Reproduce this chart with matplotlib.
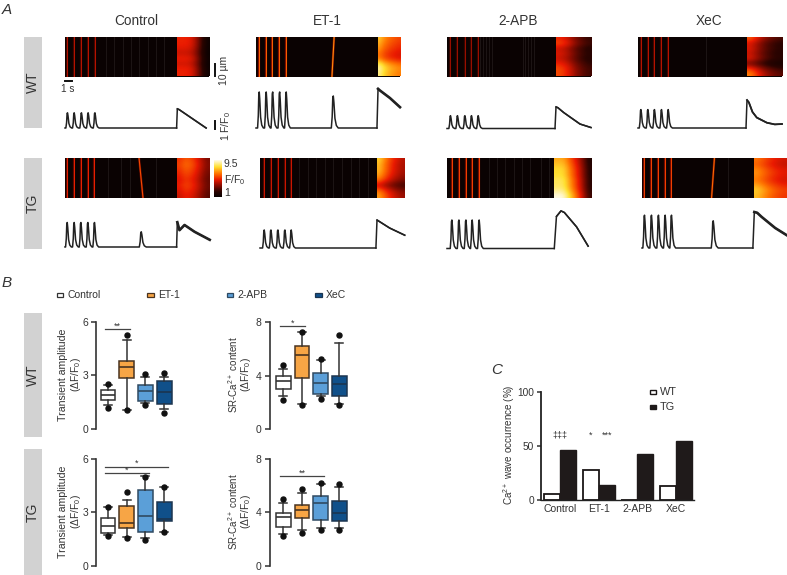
import matplotlib
matplotlib.use("Agg")
import matplotlib.pyplot as plt
from matplotlib.colors import LinearSegmentedColormap, Normalize
from matplotlib.patches import Rectangle
import numpy as np

plt.rcParams['font.family'] = ['Liberation Sans', 'DejaVu Sans']
plt.rcParams['mathtext.fontset'] = 'custom'
plt.rcParams['mathtext.rm'] = 'Liberation Sans'
plt.rcParams['mathtext.default'] = 'regular'

W, H = 787, 575
TXT = '#333333'
PX_S = 7.2   # px per second
PX_F = 8.0   # px per F/F0

# ---- panel A data, order is Control, ET-1, 2-APB, XeC
drugs = ['Control', 'ET-1', '2-APB', 'XeC']

wt_spikes = [[.32, 1.25, 2.26, 3.19, 4.13], [.42, 1.39, 2.29, 3.26, 4.17],
             [.46, 1.43, 2.46, 3.38, 4.31], [.38, 1.35, 2.26, 3.24, 4.17]]
tg_spikes = [[.28, 1.25, 2.18, 3.15, 4.07], [.56, 1.49, 2.46, 3.43, 4.31],
             [.65, 1.63, 2.60, 3.47, 4.44], [.32, 1.29, 2.26, 3.19, 4.07]]
wt_amp = [1.9, 4.5, 1.6, 2.3]
tg_amp = [3.06, 2.25, 3.56, 4.1]
# spontaneous wave: (time, amplitude, tilt in s over the scan height)
wt_wave = [None, (10.7, 4.0, .3), None, None]
tg_wave = [(10.56, 1.9, -.55), None, None, (9.86, 3.4, .4)]

wt_caff_t = [[15.5, 15.6, 15.85, 19.6],
             [16.8, 16.95, 17.2, 18.6, 20.0],
             [15.0, 15.14, 15.4, 16.2, 17.08, 18.47, 20.0],
             [15.0, 15.14, 15.4, 15.9, 16.5, 17.9, 19.0, 20.0]]
wt_caff_y = [[0, 2.4, 2.3, 0],
             [0, 4.9, 4.7, 3.75, 2.6],
             [0, 2.7, 2.6, 2.0, 1.44, .56, .12],
             [0, 3.5, 3.2, 2.0, 1.3, .66, .45, .5]]
tg_caff_t = [[15.5, 15.6, 15.9, 16.6, 18.0, 20.1],
             [16.1, 16.25, 16.6, 18.0, 20.1],
             [14.9, 15.2, 15.83, 16.3, 18.0, 19.6],
             [15.4, 15.6, 16.0, 16.6, 18.5, 20.1]]
tg_caff_y = [[0, 3.1, 2.1, 2.75, 1.9, .9],
             [0, 3.5, 3.3, 2.5, 1.6],
             [0, 4.0, 4.7, 4.5, 2.7, .3],
             [0, 4.5, 4.4, 3.9, 2.5, 1.6]]
wt_caff_lw = [1.1, 1.9, 1.1, 1.3]
tg_caff_lw = [1.9, 1.1, 1.1, 1.9]

# line scans: F/F0 of the spike lines, then caffeine band as rows x time
wt_level = [4.2, 6.0, 3.8, 4.2]
tg_level = [5.0, 4.5, 5.5, 5.5]
wt_rows = [[1, 1, .95, .88, 1, .9, 1, 1], [1.05, 1, .95, .88, .9, 1.15, 1.25, 1.2],
           [.9, 1, .78, .85, .78, .9, 1, 1], [1.05, .82, .85, .78, .85, .55, .95, 1.15]]
wt_fade = [[5.0, 5.0, 4.8, 3.9, 2.4, 1.2], [7.0, 6.4, 6.0, 5.7, 5.5, 5.3],
           [5.6, 5.2, 4.4, 3.5, 2.9, 2.5], [5.6, 4.8, 3.9, 3.2, 2.8, 2.5]]
tg_rows = [[1, 1.05, 1, .95, .9, .95, .9, .85], [1.05, 1, 1, .95, .85, .6, .85, .95],
           [.95, 1, 1.05, 1.05, 1.1, 1.1, 1.15, 1.25], [.95, .9, 1, 1, .95, 1.05, 1.15, 1.1]]
tg_fade = [[5.2, 5.8, 5.6, 5.0, 4.1, 3.3], [7.2, 6.4, 5.6, 4.9, 4.4, 4.0],
           [7.4, 7.4, 6.2, 5.0, 3.6, 1.9], [6.6, 6.2, 5.7, 5.3, 5.0, 4.8]]
wt_band = [15.5, 16.9, 15.1, 15.1]
tg_band = [15.6, 16.2, 14.8, 15.5]
wt_faint = [[5.7, 6.85, 8, 9.1, 10.3, 11.5, 12.6, 13.8], [], [4.6, 5.0, 5.4, 5.8, 6.2, 10.5, 10.9, 11.3, 11.7, 12.1], [9.4]]
tg_faint = [[6.0, 7.8, 9.0, 12.6], [5.4, 6.6, 7.8, 9.0, 10.2, 11.4, 12.6, 13.8, 15.0],
            [5.9, 7.0, 8.1, 9.3, 10.4, 11.5, 13.1, 14.2], [12.0]]

# pixel placement for panel A
wt_x0 = [65, 256, 447, 638]
tg_x0 = [65, 260, 447, 642]
wt_base = [128, 128, 128.5, 128]
tg_base = [247, 248, 248.5, 248]

# ---- panel B, box stats
leg_colors = ['white', '#f7a545', '#5b9fd8', '#10508a']
edge_colors = ['#333333', '#4a3420', '#2f4a62', '#1c3550']

wa_lo = [1.34, 1.06, 1.43, 1.10]
wa_q1 = [1.60, 2.83, 1.56, 1.42]
wa_med = [1.88, 3.45, 2.14, 2.05]
wa_q3 = [2.18, 3.82, 2.46, 2.68]
wa_hi = [2.46, 5.00, 2.93, 2.93]
wa_fl = [[1.2, 2.5], [1.05, 5.25], [1.35, 3.05], [.87, 3.15]]

ws_lo = [2.5, 1.9, 2.5, 1.9]
ws_q1 = [2.98, 3.85, 2.6, 2.45]
ws_med = [3.6, 5.54, 3.43, 3.4]
ws_q3 = [4.0, 6.2, 4.17, 4.0]
ws_hi = [4.5, 7.25, 5.14, 6.45]
ws_fl = [[2.15, 4.8], [1.8, 7.25], [2.25, 5.25], [1.8, 7.0]]

ta_lo = [1.72, 1.63, 1.53, 1.9]
ta_q1 = [1.85, 2.1, 1.9, 2.5]
ta_med = [2.22, 2.37, 2.77, 2.62]
ta_q3 = [2.65, 3.33, 4.22, 3.55]
ta_hi = [3.27, 3.7, 5.03, 4.43]
ta_fl = [[1.68, 3.27], [1.55, 4.15], [1.45, 5.0], [1.9, 4.4]]

ts_lo = [2.4, 2.65, 2.85, 2.85]
ts_q1 = [2.9, 3.53, 3.43, 3.33]
ts_med = [3.65, 4.2, 4.7, 3.95]
ts_q3 = [3.97, 4.57, 5.24, 4.87]
ts_hi = [4.7, 5.4, 6.14, 5.9]
ts_fl = [[2.25, 5.0], [2.45, 5.7], [2.7, 6.2], [2.7, 6.1]]

# ---- panel C
wave_wt = [5, 27.5, 0, 12.5]
wave_tg = [46.5, 14, 42.5, 54.5]


def px_axes(fig, x0, y0, x1, y1):
    return fig.add_axes([x0 / W, 1 - y1 / H, (x1 - x0) / W, (y1 - y0) / H])


cmap = LinearSegmentedColormap.from_list('scan', [(0, '#0a0202'), (.14, '#2c0400'), (.3, '#8a0c00'),
                                                  (.46, '#ea1a00'), (.62, '#ff7400'), (.8, '#ffdf30'),
                                                  (1, '#ffffff')])
norm = Normalize(1, 9.5)


def linescan(ax, spikes, level, wave, band, rows, fade, faint, width):
    ax.set_facecolor(cmap(0))
    for t in faint:
        ax.axvline(t, color='white', alpha=.08, lw=.7)
    for t in spikes:
        ax.axvline(t, color=cmap(norm(level * .7)), lw=1.6, alpha=.7)
        ax.axvline(t, color=cmap(norm(level)), lw=.7)
    if wave is not None:
        t, amp, tilt = wave
        ax.plot([t - tilt / 2, t + tilt / 2], [0, 1], color=cmap(norm(level * .7)), lw=1.6, alpha=.7)
        ax.plot([t - tilt / 2, t + tilt / 2], [0, 1], color=cmap(norm(level + .6)), lw=.8)
    end = width / PX_S
    ax.imshow(np.outer(rows, fade), cmap=cmap, norm=norm, aspect='auto', interpolation='bicubic',
              extent=[band, end, 0, 1], origin='upper')
    ax.set_xlim(0, end)
    ax.set_ylim(0, 1)
    ax.set_xticks([])
    ax.set_yticks([])
    for s in ax.spines.values():
        s.set_visible(False)


def trace(ax, spikes, amp, wave, caff_t, caff_y, caff_lw, width):
    # one spike goes up fast and comes back a bit slower
    shape_t = [-.2, -.1, -.03, .03, .1, .22, .38, .6]
    shape_y = [0, .35, .95, 1, .8, .3, .08, 0]
    xs, ys = [0.0], [0.0]
    for t in spikes:
        for a, b in zip(shape_t, shape_y):
            xs.append(t + a)
            ys.append(amp * b)
    if wave is not None:
        for a, b in zip(shape_t, shape_y):
            xs.append(wave[0] + a * 1.2)
            ys.append(wave[1] * b)
    xs.append(caff_t[0])
    ys.append(0)
    ax.plot(xs, ys, color='#222222', lw=1.1, clip_on=False)
    ax.plot(caff_t, caff_y, color='#222222', lw=1.1, clip_on=False)
    ax.plot(caff_t[1:], caff_y[1:], color='#222222', lw=caff_lw, clip_on=False)
    ax.set_xlim(0, width / PX_S)
    ax.set_ylim(-5 / PX_F, 45 / PX_F)
    ax.axis('off')


def box_chart(ax, lo, q1, med, q3, hi, fl, ymax, ticks, gap=12):
    stats = [dict(whislo=lo[i], q1=q1[i], med=med[i], q3=q3[i], whishi=hi[i], fliers=fl[i]) for i in range(4)]
    parts = ax.bxp(stats, positions=[1, 2, 3, 4], widths=.8, capwidths=.42, patch_artist=True,
                   flierprops=dict(marker='o', markerfacecolor='#111111', markeredgecolor='#111111', markersize=3.6),
                   manage_ticks=False)
    for i in range(4):
        parts['boxes'][i].set(facecolor=leg_colors[i], edgecolor=edge_colors[i], linewidth=1.1)
        parts['medians'][i].set(color=edge_colors[i], linewidth=1.2)
        for k in (2 * i, 2 * i + 1):
            parts['whiskers'][k].set(color='#333333', linewidth=1.1)
            parts['caps'][k].set(color='#333333', linewidth=1.1)
    # 18.7 px between box centres
    ax.set_xlim(1 - gap / 18.7, 1 - gap / 18.7 + 82 / 18.7)
    ax.set_ylim(0, ymax)
    ax.set_yticks(ticks)
    ax.set_xticks([])
    ax.tick_params(axis='y', labelsize=7.5, length=3.5, width=1.1, colors=TXT, pad=2)
    ax.patch.set_alpha(0)
    for s in ('top', 'right', 'bottom'):
        ax.spines[s].set_visible(False)
    ax.spines['left'].set(linewidth=1.2, color='#333333')


fig = plt.figure(figsize=(W / 100, H / 100), dpi=100)

# overlay in pixel coordinates for labels, grey side bars, scale bars
ov = fig.add_axes([0, 0, 1, 1])
ov.set_xlim(0, W)
ov.set_ylim(H, 0)
ov.axis('off')


def label(x, y, s, size=7.2, rot=0, ha='center', **kw):
    ov.text(x, y, s, fontsize=size, rotation=rot, ha=ha, va='center', color=TXT, **kw)


# grey side bars
for y0, y1, s in [(37, 128, 'WT'), (158, 249, 'TG'), (312.7, 437, 'WT'), (449, 575, 'TG')]:
    ov.add_patch(Rectangle((23.5, y0), 18, y1 - y0, facecolor='#d2d2d2', edgecolor='none'))
    label(32.5, (y0 + y1) / 2, s, size=10, rot=90)

label(2, 10, 'A', size=11, ha='left', style='italic')
label(2, 283, 'B', size=11, ha='left', style='italic')
label(491, 370, 'C', size=11, ha='left', style='italic')

for x, s in zip([136, 327, 518, 709], drugs):
    label(x, 21, s, size=9.8)

# panel A: scans and traces
for i in range(4):
    x0 = wt_x0[i]
    a = px_axes(fig, x0, 37, x0 + 144, 76.5)
    linescan(a, wt_spikes[i], wt_level[i], wt_wave[i], wt_band[i], wt_rows[i], wt_fade[i], wt_faint[i], 144)
    a = px_axes(fig, x0, wt_base[i] - 45, x0 + 144, wt_base[i] + 5)
    trace(a, wt_spikes[i], wt_amp[i], wt_wave[i], wt_caff_t[i], wt_caff_y[i], wt_caff_lw[i], 144)

    x0 = tg_x0[i]
    a = px_axes(fig, x0, 158, x0 + 144.5, 198)
    linescan(a, tg_spikes[i], tg_level[i], tg_wave[i], tg_band[i], tg_rows[i], tg_fade[i], tg_faint[i], 144.5)
    a = px_axes(fig, x0, tg_base[i] - 45, x0 + 144.5, tg_base[i] + 5)
    trace(a, tg_spikes[i], tg_amp[i], tg_wave[i], tg_caff_t[i], tg_caff_y[i], tg_caff_lw[i], 144.5)

# scale bars and colour key
ov.plot([65, 72], [80.7, 80.7], color='#111111', lw=1.4)
label(68, 88.5, '1 s', size=7.2)
ov.plot([215, 215], [64, 76], color='#111111', lw=1.4)
label(224, 70, '10 µm', size=7.5, rot=90)
ov.plot([215, 215], [121, 129], color='#111111', lw=1.4)
label(226, 126, '1 F/F$_0$', size=7.5, rot=90)
cb = px_axes(fig, 214, 160, 222, 197)
cb.imshow(np.linspace(9.5, 1, 64).reshape(-1, 1), cmap=cmap, norm=norm, aspect='auto')
cb.axis('off')
label(224, 164, '9.5', size=7.5, ha='left')
label(224, 180, 'F/F$_0$', size=7.5, ha='left')
label(224, 192.7, '1', size=7.5, ha='left')

# panel B legend
for x, c, e, s in zip([56.7, 147, 226.7, 315], leg_colors, edge_colors, drugs):
    ov.add_patch(Rectangle((x, 293), 6.5, 4, facecolor=c, edgecolor=e, linewidth=.9))
    label(x + 11, 295, s, ha='left', size=7.5)

# panel B charts
a = px_axes(fig, 96, 321.7, 178, 429)
box_chart(a, wa_lo, wa_q1, wa_med, wa_q3, wa_hi, wa_fl, 6, [0, 3, 6])
a = px_axes(fig, 269.5, 322, 351.5, 429)
box_chart(a, ws_lo, ws_q1, ws_med, ws_q3, ws_hi, ws_fl, 8, [0, 4, 8], gap=13.8)
a = px_axes(fig, 96, 458.7, 178, 565.7)
box_chart(a, ta_lo, ta_q1, ta_med, ta_q3, ta_hi, ta_fl, 6, [0, 3, 6])
a = px_axes(fig, 269.5, 458.7, 351.5, 565.7)
box_chart(a, ts_lo, ts_q1, ts_med, ts_q3, ts_hi, ts_fl, 8, [0, 4, 8], gap=13.8)

for yc in (375, 511.7):
    label(63, yc, 'Transient amplitude', rot=90, size=7.6)
    label(76, yc, '(ΔF/F$_0$)', rot=90, size=7.4)
    label(233, yc, 'SR-Ca$^{2+}$ content', rot=90, size=7)
    label(246, yc, '(ΔF/F$_0$)', rot=90, size=7.4)

# significance bars
for x0, x1, y, s in [(105, 130, 329, '**'), (280, 305, 326, '*'), (105, 168, 466.7, '*'),
                     (105, 149, 473, '*'), (280, 324, 476, '**')]:
    ov.plot([x0, x1], [y, y], color='#444444', lw=.9)
    label((x0 + x1) / 2, y - 3, s, size=6.5)

# panel C
c = px_axes(fig, 540.7, 392.3, 694, 499.7)
pos = np.arange(4)
c.bar(pos - .207, wave_wt, width=.414, color='white', edgecolor='#1a1616', linewidth=1.3)
c.bar(pos + .207, wave_tg, width=.414, color='#1f1a1a', edgecolor='#1f1a1a', linewidth=1.0)
c.set_xlim(-.5, 3.47)
c.set_ylim(0, 100)
c.set_yticks([0, 50, 100])
c.set_xticks(pos)
c.set_xticklabels(drugs)
c.tick_params(axis='y', labelsize=7.3, length=3, width=1.1, colors=TXT, pad=2)
c.tick_params(axis='x', labelsize=7.5, length=0, colors=TXT, pad=3)
c.patch.set_alpha(0)
for s in ('top', 'right'):
    c.spines[s].set_visible(False)
c.spines['left'].set(linewidth=1.3, color='#222222')
c.spines['bottom'].set(linewidth=1.0, color='#222222')

label(509, 445, 'Ca$^{2+}$ wave occurrence (%)', rot=90, size=7.1)
label(560, 435.5, '‡‡‡', size=6.5)
label(591, 435, '*', size=6.5)
label(607, 435, '***', size=6.5)
ov.add_patch(Rectangle((649.5, 390), 6.5, 4, facecolor='white', edgecolor='#1a1616', linewidth=1.0))
ov.add_patch(Rectangle((649.5, 404.5), 6.5, 4, facecolor='#1f1a1a', edgecolor='#1f1a1a', linewidth=1.0))
label(660, 392, 'WT', ha='left', size=7.8)
label(660, 406.7, 'TG', ha='left', size=7.8)

fig.savefig('out.png', dpi=100)
